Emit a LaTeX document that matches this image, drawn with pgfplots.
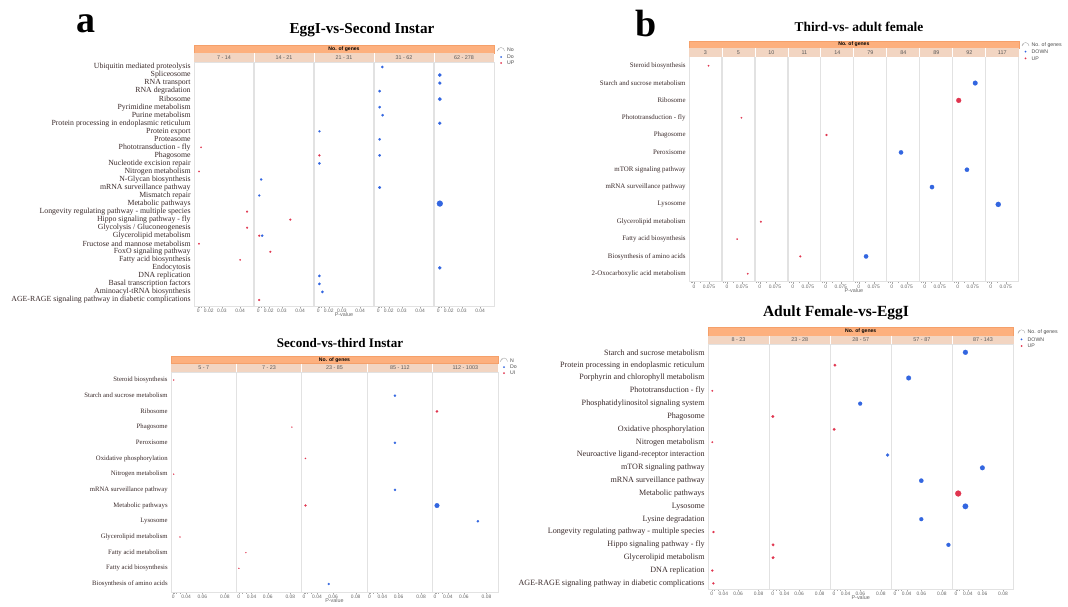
\documentclass[border=0pt]{standalone}
\usepackage{fontspec}
\setmainfont{Liberation Serif}
\setsansfont{Liberation Sans}
\usepackage{pgfplots}
\pgfplotsset{compat=1.18}
\usepackage{pgfplotstable}
\definecolor{bl}{HTML}{3366E0}
\definecolor{rd}{HTML}{E0354F}
\definecolor{hdr}{HTML}{FDB07E}
\definecolor{hdrd}{HTML}{F5A06A}
\definecolor{hdrl}{HTML}{F2D5C2}
\definecolor{lbl}{HTML}{3A2A2A}
\definecolor{grd}{HTML}{E2E2E2}

\pgfplotsset{
 facet/.style={scale only axis, clip=false, y dir=reverse,
   anchor=south west,
   axis line style={grd, line width=0.8pt},
   ytick style={draw=none},
   yticklabel style={text=lbl, inner xsep=1.2pt},
   xticklabel style={font=\sffamily\fontsize{4.9}{5}\selectfont, text=black!60, inner ysep=1pt},
   xtick style={black!35, line width=0.3pt},
   minor tick style={black!35, line width=0.3pt},
   xtick pos=lower, tick align=outside,
   major tick length=2pt, minor tick length=1.5pt,
   extra x tick labels={},
   extra x tick style={grid=major, major grid style={grd, line width=1.2pt}, major tick length=0pt},
   xlabel={P-value},
   xlabel style={font=\sffamily\fontsize{5.4}{5.5}\selectfont, text=black!60, inner sep=0pt, yshift=3pt},
 },
 dot/.style={only marks, mark=*, color=#1, mark options={draw=#1, fill=#1, line width=0.1pt}},
}

% one plot per marker radius (radius given in tenths of a px in column r)
% #1 colour, #2 table, #3 offset, #4 scale, #5 list of radii
\newcommand{\pvdots}[5]{%
 \pgfplotsinvokeforeach{#5}{%
   \addplot[dot=#1, mark size={##1/10}, restrict expr to domain={\thisrow{r}}{##1:##1}]
     table[x expr={\thisrow{f}+#3+#4*\thisrow{p}^2}, y=row]{#2};
 }%
}

\newcommand{\facethead}[7]{%
 \pgfmathsetmacro\hxm{(#1+#2)/2}%
 \pgfmathsetmacro\hym{-(#3+#4)/2}%
 \pgfmathsetmacro\hyl{-(#4+#5)/2}%
 \pgfmathtruncatemacro\hnm{#6-1}%
 \fill[hdr, draw=hdrd, line width=0.4pt] (#1pt,-#3pt) rectangle (#2pt,-#4pt);
 \fill[hdrl] (#1pt,-#4pt) rectangle (#2pt,-#5pt);
 \node[font=\sffamily\bfseries\fontsize{5.1}{5.5}\selectfont, inner sep=0pt] at (\hxm pt,\hym pt) {No. of genes};
 \foreach \i in {1,...,\hnm} {%
   \pgfmathsetmacro\xs{#1+\i*(#2-#1)/#6}%
   \draw[white, line width=0.8pt] (\xs pt,-#4pt) -- (\xs pt,-#5pt);
 }
 \foreach \lab [count=\i from 0] in {#7} {%
   \pgfmathsetmacro\xc{#1+(\i+0.5)*(#2-#1)/#6}%
   \node[font=\sffamily\fontsize{5.4}{5.5}\selectfont, text=black!65, inner sep=0pt] at (\xc pt,\hyl pt) {\lab};
 }
}

% legend: x, y1, y2, y3, text1, text2, text3
\newcommand{\sizelegend}[7]{%
 \draw[gray!70, line width=0.4pt] (#1pt-3.5pt,-#2pt-1pt) arc[start angle=180, end angle=0, radius=3.5pt];
 \draw[gray!70, line width=0.3pt] (#1pt-3.5pt,-#2pt-1pt) arc[start angle=180, end angle=90, radius=2pt];
 \fill[bl] (#1pt,-#3pt) circle (1pt);
 \fill[rd] (#1pt,-#4pt) circle (1pt);
 \node[anchor=west, font=\sffamily\fontsize{5.2}{5.5}\selectfont, text=black!70, inner sep=0pt] at (#1pt+6pt,-#2pt) {#5};
 \node[anchor=west, font=\sffamily\fontsize{5.2}{5.5}\selectfont, text=black!70, inner sep=0pt] at (#1pt+6pt,-#3pt) {#6};
 \node[anchor=west, font=\sffamily\fontsize{5.2}{5.5}\selectfont, text=black!70, inner sep=0pt] at (#1pt+6pt,-#4pt) {#7};
}

% ---------------- data ----------------
% row = pathway index (top to bottom), f = facet (No. of genes bin), p = P-value, r = marker radius x10
% panel a: EggI-vs-Second Instar
\pgfplotstableread{
row f p r
1 3 0.0124 13
2 4 0.0076 18
3 4 0.0076 16
4 3 0.0071 13
5 4 0.0076 19
6 3 0.0071 13
7 3 0.0128 13
8 4 0.0076 16
9 2 0.0065 11
10 3 0.0071 13
12 3 0.0071 13
13 2 0.0065 13
15 1 0.0105 12
16 3 0.0071 14
17 1 0.0059 11
18 4 0.0076 30
22 1 0.0122 12
26 4 0.0076 17
27 2 0.0065 13
28 2 0.0065 13
29 2 0.0125 13
}\aD
\pgfplotstableread{
row f p r
11 0 0.0102 8
12 2 0.0065 11
14 0 0.0052 8
19 0 0.0432 10
20 1 0.0350 10
21 0 0.0432 10
22 1 0.0059 10
23 0 0.0052 8
24 1 0.0214 10
25 0 0.0400 8
30 1 0.0059 10
}\aU
% Second-vs-third Instar
\pgfplotstableread{
row f p r
2 3 0.0562 12
5 3 0.0562 12
8 3 0.0562 12
9 4 0.0161 24
10 4 0.0730 12
14 2 0.0553 11
}\bD
\pgfplotstableread{
row f p r
1 0 0.0070 6
3 4 0.0161 13
4 1 0.0812 6
6 2 0.0132 7
7 0 0.0070 6
9 2 0.0132 11
11 0 0.0288 6
12 1 0.0299 6
13 1 0.0050 6
}\bU
% Third-vs- adult female
\pgfplotstableread{
row f p r
2 8 0.0810 24
6 6 0.0589 22
7 8 0.0589 22
8 7 0.0522 22
9 9 0.0534 26
12 5 0.0522 22
}\cD
\pgfplotstableread{
row f p r
1 0 0.0740 8
3 8 0.0196 25
4 1 0.0737 8
5 4 0.0160 11
10 2 0.0196 10
11 1 0.0619 8
12 3 0.0529 10
13 1 0.0882 8
}\cU
% Adult Female-vs-EggI
\pgfplotstableread{
row f p r
1 4 0.0357 25
3 3 0.0432 24
5 2 0.0599 20
9 2 0.0856 16
10 4 0.0599 24
11 3 0.0599 22
13 4 0.0357 28
14 3 0.0599 20
16 3 0.0854 20
}\dD
\pgfplotstableread{
row f p r
2 2 0.0119 14
4 0 0.0096 9
6 1 0.0020 14
7 2 0.0065 14
8 0 0.0096 9
12 4 0.0171 30
15 0 0.0155 11
16 1 0.0065 14
17 1 0.0065 14
18 0 0.0096 11
19 0 0.0155 11
}\dU

\begin{document}
\begin{tikzpicture}
\path[use as bounding box] (0pt,0pt) rectangle (1068pt,-606pt);

% ================= panel a =================
\node[font=\bfseries\fontsize{38}{38}\selectfont, inner sep=0pt] at (86pt,-24pt) {a};
\node[font=\bfseries\fontsize{15.2}{15}\selectfont, inner sep=0pt] at (362pt,-30pt) {EggI-vs-Second Instar};
\begin{axis}[facet, at={(194pt,-306pt)},
  width=300pt, height=244pt,
  xmin=0, xmax=5, ymin=0.378, ymax=30.75,
  ytick={1,...,30},
  yticklabels={Ubiquitin mediated proteolysis, Spliceosome, RNA transport, RNA degradation, Ribosome, Pyrimidine metabolism, Purine metabolism, Protein processing in endoplasmic reticulum, Protein export, Proteasome, Phototransduction - fly, Phagosome, Nucleotide excision repair, Nitrogen metabolism, N-Glycan biosynthesis, mRNA surveillance pathway, Mismatch repair, Metabolic pathways, Longevity regulating pathway - multiple species, Hippo signaling pathway - fly, Glycolysis / Gluconeogenesis, Glycerolipid metabolism, Fructose and mannose metabolism, FoxO signaling pathway, Fatty acid biosynthesis, Endocytosis, DNA replication, Basal transcription factors, Aminoacyl-tRNA biosynthesis, AGE-RAGE signaling pathway in diabetic complications},
  yticklabel style={font=\fontsize{7.8}{8}\selectfont},
  xtick={0.072,0.246,0.464,0.769,1.072,1.246,1.464,1.769,2.072,2.246,2.464,2.769,3.072,3.246,3.464,3.769,4.072,4.246,4.464,4.769},
  xticklabels={0,0.02,0.03,0.04,0,0.02,0.03,0.04,0,0.02,0.03,0.04,0,0.02,0.03,0.04,0,0.02,0.03,0.04},
  minor xtick={0.083,0.116,0.170,1.083,1.116,1.170,2.083,2.116,2.170,3.083,3.116,3.170,4.083,4.116,4.170},
  extra x ticks={1,2,3,4},
]
\pvdots{bl}{\aD}{0.072}{435.6}{11,12,13,14,16,17,18,19,30}
\pvdots{rd}{\aU}{0.072}{435.6}{8,10,11}
\end{axis}
\facethead{194}{494}{45}{53}{62}{5}{7 - 14,14 - 21,21 - 31,31 - 62,62 - 278}
\sizelegend{501}{50}{57}{63}{No}{Do}{UP}

% ================= Second-vs-third =================
\node[font=\bfseries\fontsize{13.1}{14}\selectfont, inner sep=0pt] at (340pt,-343pt) {Second-vs-third Instar};
\begin{axis}[facet, at={(171pt,-592pt)},
  width=327pt, height=220pt,
  xmin=0, xmax=5, ymin=0.49, ymax=14.51,
  ytick={1,...,14},
  yticklabels={Steroid biosynthesis, Starch and sucrose metabolism, Ribosome, Phagosome, Peroxisome, Oxidative phosphorylation, Nitrogen metabolism, mRNA surveillance pathway, Metabolic pathways, Lysosome, Glycerolipid metabolism, Fatty acid metabolism, Fatty acid biosynthesis, Biosynthesis of amino acids},
  yticklabel style={font=\fontsize{6.7}{7}\selectfont},
  xtick={0.035,0.232,0.479,0.824,1.035,1.232,1.479,1.824,2.035,2.232,2.479,2.824,3.035,3.232,3.479,3.824,4.035,4.232,4.479,4.824},
  xticklabels={0,0.04,0.06,0.08,0,0.04,0.06,0.08,0,0.04,0.06,0.08,0,0.04,0.06,0.08,0,0.04,0.06,0.08},
  minor xtick={0.047,0.084,0.146,1.047,1.084,1.146,2.047,2.084,2.146,3.047,3.084,3.146,4.047,4.084,4.146},
  extra x ticks={1,2,3,4},
]
\pvdots{bl}{\bD}{0.035}{123.3}{11,12,24}
\pvdots{rd}{\bU}{0.035}{123.3}{6,7,11,13}
\end{axis}
\facethead{171}{498}{356.5}{363.5}{372}{5}{5 - 7,7 - 23,23 - 85,85 - 112,112 - 1003}
\sizelegend{504}{360.5}{367}{373}{N}{Do}{UI}

% ================= Third-vs- adult female =================
\node[font=\bfseries\fontsize{38}{38}\selectfont, inner sep=0pt] at (646pt,-23pt) {b};
\node[font=\bfseries\fontsize{13.4}{14}\selectfont, inner sep=0pt] at (859pt,-27pt) {Third-vs- adult female};
\begin{axis}[facet, at={(689pt,-281.7pt)},
  width=329.7pt, height=225pt,
  xmin=0, xmax=10, ymin=0.48, ymax=13.46,
  ytick={1,...,13},
  yticklabels={Steroid biosynthesis, Starch and sucrose metabolism, Ribosome, Phototransduction - fly, Phagosome, Peroxisome, mTOR signaling pathway, mRNA surveillance pathway, Lysosome, Glycerolipid metabolism, Fatty acid biosynthesis, Biosynthesis of amino acids, 2-Oxocarboxylic acid metabolism},
  yticklabel style={font=\fontsize{6.9}{7}\selectfont},
  xtick={0.149,0.605,1.149,1.605,2.149,2.605,3.149,3.605,4.149,4.605,5.149,5.605,6.149,6.605,7.149,7.605,8.149,8.605,9.149,9.605},
  xticklabels={0,0.075,0,0.075,0,0.075,0,0.075,0,0.075,0,0.075,0,0.075,0,0.075,0,0.075,0,0.075},
  minor xtick={0.05,0.10,0.352,1.05,1.10,1.352,2.05,2.10,2.352,3.05,3.10,3.352,4.05,4.10,4.352,5.05,5.10,5.352,6.05,6.10,6.352,7.05,7.10,7.352,8.05,8.10,8.352,9.05,9.10,9.352},
  extra x ticks={1,2,3,4,5,6,7,8,9},
]
\pvdots{bl}{\cD}{0.149}{81.1}{22,24,26}
\pvdots{rd}{\cU}{0.149}{81.1}{8,10,11,25}
\end{axis}
\facethead{689}{1018.7}{40.7}{48.3}{56.7}{10}{3,5,10,11,14,79,84,89,92,117}
\sizelegend{1025.5}{45}{51.7}{58.3}{No. of genes}{DOWN}{UP}

% ================= Adult Female-vs-EggI =================
\node[font=\bfseries\fontsize{15.5}{16}\selectfont, inner sep=0pt] at (836pt,-312.7pt) {Adult Female-vs-EggI};
\begin{axis}[facet, at={(708pt,-589pt)},
  width=305.5pt, height=245pt,
  xmin=0, xmax=5, ymin=0.353, ymax=19.44,
  ytick={1,...,19},
  yticklabels={Starch and sucrose metabolism, Protein processing in endoplasmic reticulum, Porphyrin and chlorophyll metabolism, Phototransduction - fly, Phosphatidylinositol signaling system, Phagosome, Oxidative phosphorylation, Nitrogen metabolism, Neuroactive ligand-receptor interaction, mTOR signaling pathway, mRNA surveillance pathway, Metabolic pathways, Lysosome, Lysine degradation, Longevity regulating pathway - multiple species, Hippo signaling pathway - fly, Glycerolipid metabolism, DNA replication, AGE-RAGE signaling pathway in diabetic complications},
  yticklabel style={font=\fontsize{8.1}{8.5}\selectfont},
  xtick={0.06,0.252,0.492,0.828,1.06,1.252,1.492,1.828,2.06,2.252,2.492,2.828,3.06,3.252,3.492,3.828,4.06,4.252,4.492,4.828},
  xticklabels={0,0.04,0.06,0.08,0,0.04,0.06,0.08,0,0.04,0.06,0.08,0,0.04,0.06,0.08,0,0.04,0.06,0.08},
  minor xtick={0.072,0.108,0.168,1.072,1.108,1.168,2.072,2.108,2.168,3.072,3.108,3.168,4.072,4.108,4.168},
  extra x ticks={1,2,3,4},
]
\pvdots{bl}{\dD}{0.06}{120}{16,20,22,24,25,28}
\pvdots{rd}{\dU}{0.06}{120}{9,11,14,30}
\end{axis}
\facethead{708}{1013.5}{327.3}{335.7}{344}{5}{8 - 23,23 - 28,28 - 57,57 - 87,87 - 143}
\sizelegend{1021.5}{332.3}{339.3}{346}{No. of genes}{DOWN}{UP}
\end{tikzpicture}
\end{document}
